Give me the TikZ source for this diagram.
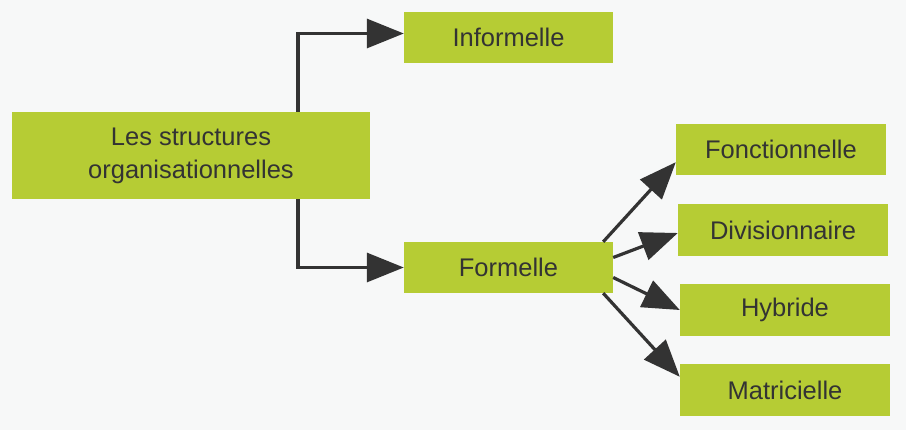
\documentclass[tikz,border=0pt]{standalone}
\usepackage{fontspec}
\setmainfont{Liberation Sans}
\usetikzlibrary{arrows.meta}
\definecolor{pagebg}{RGB}{247,248,248}
\definecolor{boxgreen}{RGB}{182,204,52}
\definecolor{arrowgray}{RGB}{51,51,51}
\begin{document}
\begin{tikzpicture}[x=1pt, y=-1pt,
  box/.style={fill=boxgreen, inner sep=0pt, align=center, text=arrowgray,
    font=\fontsize{25.5}{33}\selectfont},
  link/.style={draw=arrowgray, line width=3.2pt, -{Triangle[length=37pt, width=29pt]}}]
% Background and bounding box
\fill[pagebg] (0, 0) rectangle (906, 430);
\useasboundingbox (0, 0) rectangle (906, 430);

% Draw the boxes
\node[box, minimum width=358pt, minimum height=87pt] (root) at (191, 155.5) {Les structures\\organisationnelles};
\node[box, minimum width=209pt, minimum height=51pt] (inf) at (508.5, 37.5) {Informelle};
\node[box, minimum width=209pt, minimum height=51pt] (form) at (508.5, 267.5) {Formelle};
\node[box, minimum width=210pt, minimum height=51pt] (fonc) at (781, 149.5) {Fonctionnelle};
\node[box, minimum width=210pt, minimum height=52pt] (div) at (783, 230) {Divisionnaire};
\node[box, minimum width=210pt, minimum height=52pt] (hyb) at (785, 310) {Hybride};
\node[box, minimum width=210pt, minimum height=52pt] (mat) at (785, 390) {Matricielle};

% Draw the arrows
\draw[link] ([xshift=107pt]root.north) |- ([yshift=4pt]inf.west);
\draw[link] ([xshift=107pt]root.south) |- (form.west);
\draw[link] ([xshift=-10pt]form.north east) -- ([yshift=13pt]fonc.south west);
\draw[link] ([yshift=10pt]form.east) -- ([yshift=-3pt]div.west);
\draw[link] ([yshift=-10pt]form.east) -- (hyb.west);
\draw[link] ([xshift=-10pt]form.south east) -- ([yshift=-13pt]mat.north west);
\end{tikzpicture}
\end{document}
